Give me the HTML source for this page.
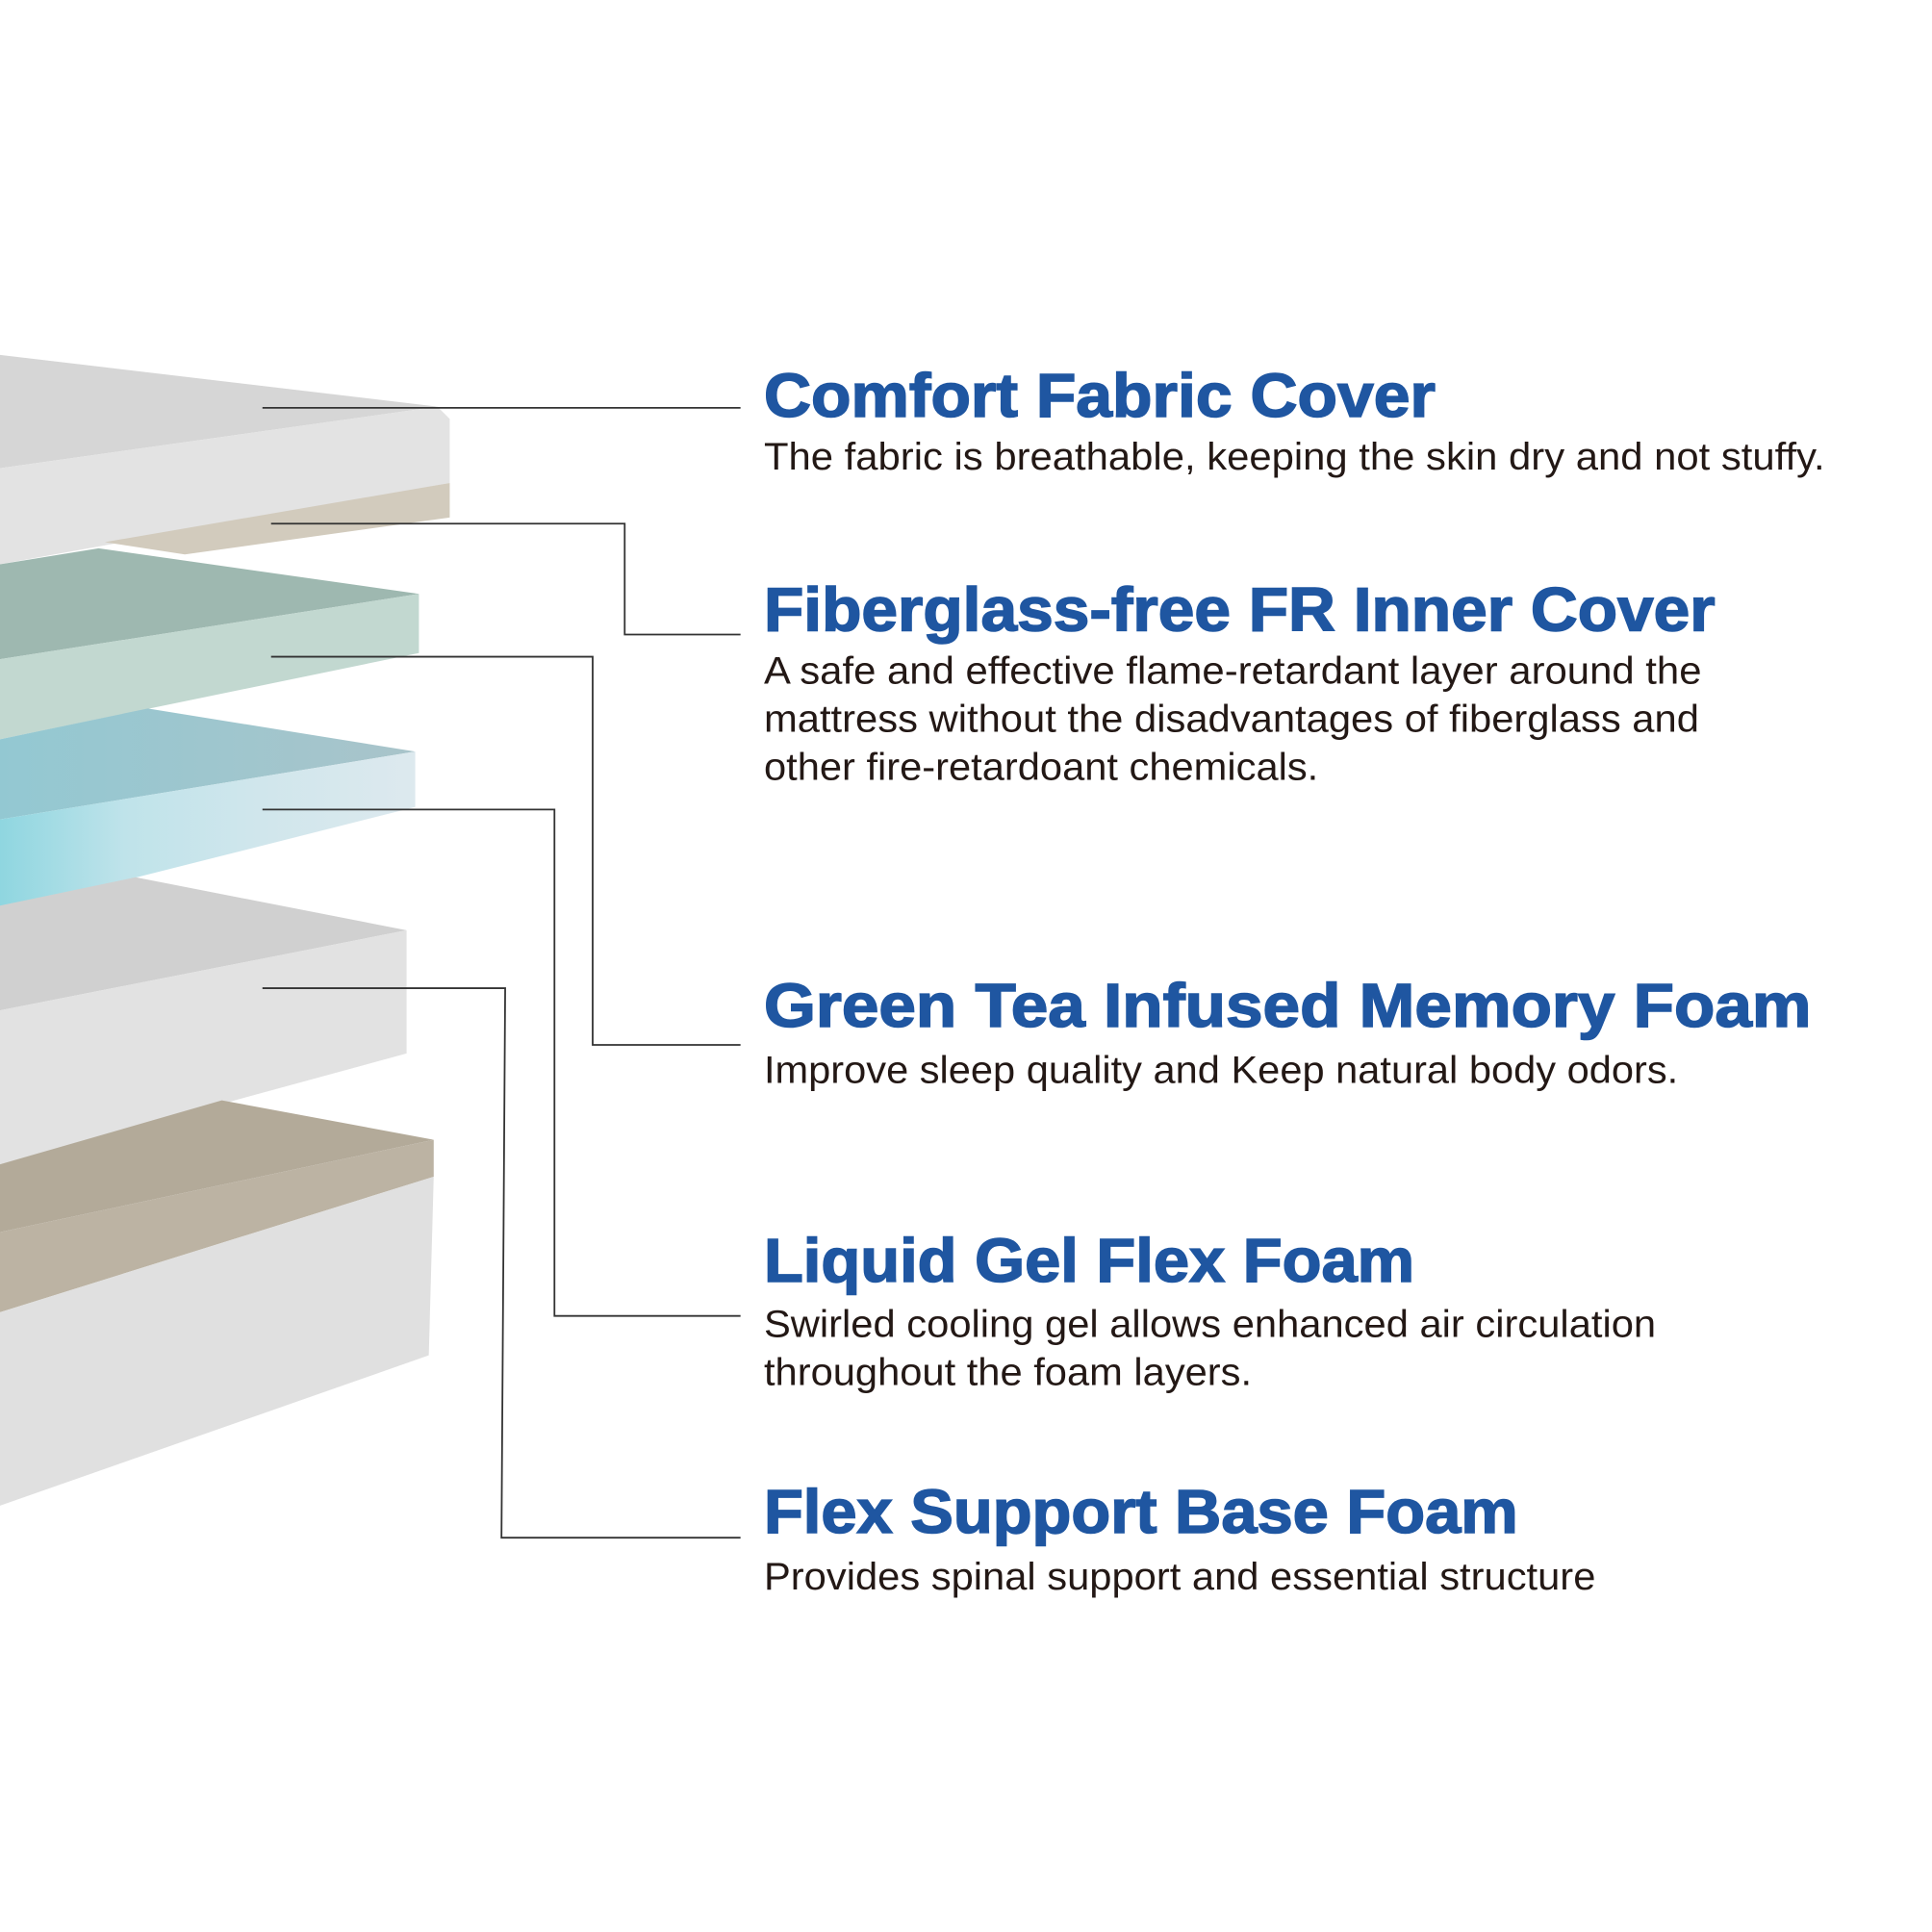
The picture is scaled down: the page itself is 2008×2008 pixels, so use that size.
<!DOCTYPE html>
<html><head><meta charset="utf-8"><style>html,body{margin:0;padding:0;background:#fff}svg{display:block}</style></head>
<body>
<svg width="2008" height="2008" viewBox="0 0 1568 1568" xmlns="http://www.w3.org/2000/svg">
<defs>
<linearGradient id="gel" x1="0" y1="0" x2="1" y2="0"><stop offset="0" stop-color="#8fd6e0"/><stop offset="0.3" stop-color="#bfe3ea"/><stop offset="0.6" stop-color="#cfe6ec"/><stop offset="1" stop-color="#dde9ee"/></linearGradient>
<linearGradient id="geltop" x1="0" y1="0" x2="1" y2="0"><stop offset="0" stop-color="#93c8d2"/><stop offset="1" stop-color="#a9c4ca"/></linearGradient>
</defs>
<rect width="1568" height="1568" fill="#fff"/>
<polygon points="0,288 355,330 0,380" fill="#d6d6d6"/>
<polygon points="0,380 355,330 365,340 365,392 0,458" fill="#e3e3e3"/>
<polygon points="85,440 365,392 365,420 150,450" fill="#d2cbbd"/>
<polygon points="0,458 80,445 340,482 0,535" fill="#9eb8b0"/>
<polygon points="0,535 340,482 340,530 0,600" fill="#c2d8d0"/>
<polygon points="0,600 120,575 337,610 0,665" fill="url(#geltop)"/>
<polygon points="0,665 337,610 337,655 0,740" fill="url(#gel)"/>
<polygon points="0,735 110,712 330,755 0,820" fill="#d0d0d0"/>
<polygon points="0,820 330,755 330,855 0,945" fill="#e2e2e2"/>
<polygon points="0,945 180,893 352,925 0,1000" fill="#b3aa99"/>
<polygon points="0,1000 352,925 352,955 0,1065" fill="#bcb3a3"/>
<polygon points="0,1065 352,955 348,1100 0,1222" fill="#e0e0e0"/>
<g fill="none" stroke="#333" stroke-width="1.4">
<polyline points="213,331 601,331"/>
<polyline points="220,425 507,425 507,515 601,515"/>
<polyline points="220,533 481,533 481,848 601,848"/>
<polyline points="213,657 450,657 450,1068 601,1068"/>
<polyline points="213,802 410,802 407,1248 601,1248"/>
</g>
<g font-family="Liberation Sans, sans-serif" font-weight="bold" fill="#1f56a1" stroke="#1f56a1" stroke-width="1.2" font-size="50">
<text x="620" y="338" textLength="545" lengthAdjust="spacingAndGlyphs">Comfort Fabric Cover</text>
<text x="620" y="512" textLength="772" lengthAdjust="spacingAndGlyphs">Fiberglass-free FR Inner Cover</text>
<text x="620" y="833" textLength="850" lengthAdjust="spacingAndGlyphs">Green Tea Infused Memory Foam</text>
<text x="620" y="1040" textLength="528" lengthAdjust="spacingAndGlyphs">Liquid Gel Flex Foam</text>
<text x="620" y="1244" textLength="612" lengthAdjust="spacingAndGlyphs">Flex Support Base Foam</text>
</g>
<g font-family="Liberation Sans, sans-serif" fill="#231815" font-size="31">
<text x="620" y="381" textLength="861" lengthAdjust="spacingAndGlyphs">The fabric is breathable, keeping the skin dry and not stuffy.</text>
<text x="620" y="555" textLength="761" lengthAdjust="spacingAndGlyphs">A safe and effective flame-retardant layer around the</text>
<text x="620" y="594" textLength="759" lengthAdjust="spacingAndGlyphs">mattress without the disadvantages of fiberglass and</text>
<text x="620" y="633" textLength="450" lengthAdjust="spacingAndGlyphs">other fire-retardoant chemicals.</text>
<text x="620" y="879" textLength="742" lengthAdjust="spacingAndGlyphs">Improve sleep quality and Keep natural body odors.</text>
<text x="620" y="1085" textLength="724" lengthAdjust="spacingAndGlyphs">Swirled cooling gel allows enhanced air circulation</text>
<text x="620" y="1124" textLength="396" lengthAdjust="spacingAndGlyphs">throughout the foam layers.</text>
<text x="620" y="1290" textLength="675" lengthAdjust="spacingAndGlyphs">Provides spinal support and essential structure</text>
</g>
</svg>
</body></html>
